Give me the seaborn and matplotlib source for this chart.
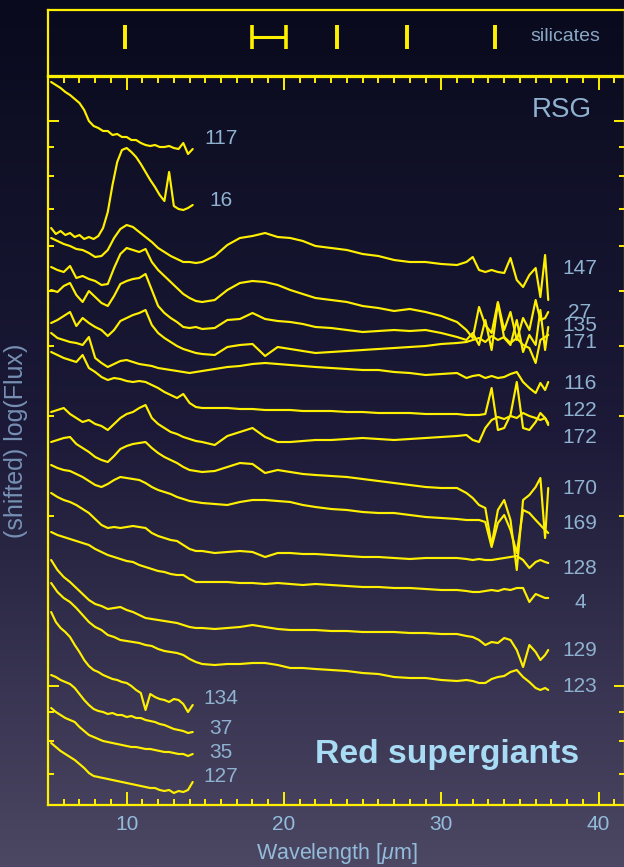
import numpy as np
import pandas as pd
import matplotlib
matplotlib.use("Agg")
import matplotlib.pyplot as plt
import seaborn as sns
from matplotlib.colors import LinearSegmentedColormap
from matplotlib.ticker import FixedLocator, MultipleLocator, NullFormatter

# ---------------------------------------------------------------- data
# wavelength grids [micron]
wl_short = [5.2, 5.5, 5.8, 6.1, 6.4, 6.7, 7.0, 7.3, 7.6, 7.9, 8.2, 8.5, 8.8, 9.1,
            9.4, 9.7, 10.0, 10.3, 10.6, 10.9, 11.2, 11.5, 11.8, 12.1, 12.4, 12.7,
            13.0, 13.3, 13.6, 13.9, 14.2]
wl_long = [5.2, 5.6, 6.0, 6.4, 6.8, 7.2, 7.6, 8.0, 8.4, 8.8, 9.2, 9.6, 10.0, 10.4,
           10.8, 11.2, 11.6, 12.0, 12.4, 12.8, 13.2, 13.6, 14.0, 14.4, 14.8,
           15.6, 16.4, 17.2, 18.0, 18.8, 19.6, 20.4, 21.2, 22.0, 23.0, 24.0, 25.0,
           26.0, 27.0, 28.0, 29.0, 30.0, 31.0,
           31.6, 32.0, 32.4, 32.8, 33.2, 33.6, 34.0, 34.4, 34.8, 35.2, 35.6, 36.0,
           36.3, 36.6, 36.8]

# shifted log(flux) of the short-wavelength spectra
flux_117 = [7.23, 7.20, 7.17, 7.13, 7.10, 7.06, 7.02, 6.95, 6.84, 6.79, 6.77, 6.74,
            6.74, 6.70, 6.71, 6.68, 6.68, 6.65, 6.65, 6.62, 6.60, 6.59, 6.60, 6.58,
            6.58, 6.59, 6.57, 6.56, 6.62, 6.51, 6.56]
flux_16 = [5.77, 5.71, 5.74, 5.70, 5.72, 5.68, 5.70, 5.66, 5.68, 5.66, 5.69, 5.77,
           5.93, 6.20, 6.43, 6.55, 6.57, 6.53, 6.48, 6.41, 6.33, 6.25, 6.18, 6.10,
           6.04, 6.33, 5.99, 5.96, 5.95, 5.97, 6.00]
flux_134 = [1.93, 1.83, 1.77, 1.73, 1.68, 1.60, 1.53, 1.45, 1.39, 1.35, 1.33, 1.30,
            1.28, 1.26, 1.25, 1.23, 1.22, 1.19, 1.15, 1.12, 0.95, 1.11, 1.08, 1.06,
            1.05, 1.03, 1.06, 1.05, 1.01, 0.93, 1.00]
flux_37 = [1.30, 1.28, 1.25, 1.23, 1.21, 1.17, 1.11, 1.05, 1.00, 0.96, 0.94, 0.93,
           0.91, 0.92, 0.90, 0.90, 0.88, 0.89, 0.87, 0.87, 0.85, 0.84, 0.83, 0.81,
           0.80, 0.78, 0.76, 0.75, 0.74, 0.72, 0.73]
flux_35 = [0.97, 0.93, 0.90, 0.87, 0.85, 0.83, 0.78, 0.74, 0.70, 0.68, 0.66, 0.64,
           0.63, 0.62, 0.61, 0.60, 0.59, 0.58, 0.58, 0.57, 0.56, 0.56, 0.55, 0.54,
           0.53, 0.53, 0.52, 0.51, 0.51, 0.49, 0.51]
flux_127 = [0.62, 0.58, 0.54, 0.51, 0.48, 0.45, 0.41, 0.37, 0.32, 0.29, 0.28, 0.27,
            0.26, 0.25, 0.24, 0.23, 0.22, 0.21, 0.20, 0.19, 0.18, 0.17, 0.17, 0.15,
            0.14, 0.15, 0.12, 0.14, 0.13, 0.15, 0.23]

# shifted log(flux) of the full-range spectra
flux_147 = [5.67, 5.64, 5.61, 5.59, 5.56, 5.55, 5.52, 5.48, 5.49, 5.55, 5.67, 5.76,
            5.80, 5.78, 5.73, 5.68, 5.63, 5.57, 5.53, 5.49, 5.46, 5.43, 5.43, 5.42,
            5.43,
            5.49, 5.60, 5.67, 5.69, 5.72, 5.68, 5.67, 5.64, 5.59, 5.57, 5.55, 5.51,
            5.49, 5.45, 5.43, 5.43, 5.41, 5.40,
            5.43, 5.48, 5.35, 5.33, 5.35, 5.33, 5.32, 5.47, 5.25, 5.18, 5.30, 5.37,
            5.08, 5.50, 5.05]
flux_27 = [5.38, 5.35, 5.33, 5.39, 5.27, 5.29, 5.26, 5.24, 5.20, 5.21, 5.37, 5.51,
           5.57, 5.55, 5.53, 5.56, 5.43, 5.35, 5.29, 5.23, 5.17, 5.11, 5.07, 5.04,
           5.03,
           5.05, 5.15, 5.22, 5.24, 5.23, 5.20, 5.15, 5.11, 5.07, 5.05, 5.03, 4.99,
           4.97, 4.94, 4.96, 4.93, 4.89, 4.83,
           4.75, 4.67, 4.98, 4.80, 4.72, 5.03, 4.75, 4.93, 4.65, 4.87, 4.75, 5.05,
           4.85, 4.87, 4.93]
flux_135 = [5.15, 5.13, 5.19, 5.22, 5.10, 5.03, 5.14, 5.08, 5.02, 4.99, 5.09, 5.21,
            5.24, 5.26, 5.27, 5.31, 5.15, 4.99, 4.92, 4.87, 4.83, 4.78, 4.77, 4.78,
            4.76,
            4.77, 4.85, 4.86, 4.92, 4.86, 4.84, 4.83, 4.81, 4.78, 4.77, 4.75, 4.73,
            4.74, 4.75, 4.74, 4.75, 4.72, 4.68,
            4.65, 4.72, 4.60, 4.85, 4.55, 5.02, 4.67, 4.60, 4.85, 4.53, 4.70, 4.60,
            4.95, 4.55, 4.78]
flux_171 = [4.82, 4.85, 4.89, 4.93, 4.79, 4.87, 4.82, 4.78, 4.75, 4.69, 4.75, 4.84,
            4.87, 4.90, 4.92, 4.95, 4.80, 4.72, 4.67, 4.63, 4.59, 4.56, 4.54, 4.52,
            4.51,
            4.50, 4.58, 4.60, 4.61, 4.49, 4.58, 4.56, 4.54, 4.52, 4.53, 4.54, 4.55,
            4.56, 4.57, 4.58, 4.59, 4.61, 4.62,
            4.63, 4.65, 4.67, 4.63, 4.69, 4.65, 4.68, 4.62, 4.67, 4.60, 4.57, 4.42,
            4.65, 4.68, 4.70]
flux_116 = [4.72, 4.67, 4.65, 4.63, 4.62, 4.60, 4.68, 4.47, 4.42, 4.38, 4.41, 4.44,
            4.45, 4.43, 4.41, 4.40, 4.39, 4.37, 4.36, 4.35, 4.34, 4.33, 4.32, 4.33,
            4.34,
            4.36, 4.38, 4.39, 4.41, 4.42, 4.41, 4.40, 4.39, 4.38, 4.37, 4.36, 4.35,
            4.35, 4.33, 4.32, 4.30, 4.31, 4.32,
            4.27, 4.29, 4.30, 4.27, 4.29, 4.27, 4.28, 4.31, 4.33, 4.23, 4.17, 4.12,
            4.22, 4.15, 4.23]
flux_122 = [4.53, 4.50, 4.47, 4.45, 4.43, 4.50, 4.37, 4.33, 4.28, 4.25, 4.27, 4.26,
            4.24, 4.23, 4.24, 4.23, 4.20, 4.17, 4.13, 4.10, 4.07, 4.11, 4.02, 3.98,
            3.97,
            3.97, 3.97, 3.96, 3.96, 3.95, 3.95, 3.95, 3.94, 3.94, 3.94, 3.93, 3.93,
            3.92, 3.92, 3.92, 3.91, 3.91, 3.91,
            3.90, 3.90, 3.90, 3.91, 4.17, 3.75, 3.77, 3.90, 4.23, 3.77, 3.75, 3.83,
            3.92, 3.87, 3.82]
flux_172 = [3.93, 3.95, 3.97, 3.91, 3.87, 3.83, 3.85, 3.81, 3.79, 3.75, 3.81, 3.87,
            3.91, 3.93, 3.97, 4.00, 3.87, 3.81, 3.77, 3.73, 3.71, 3.68, 3.66, 3.64,
            3.63,
            3.60, 3.69, 3.73, 3.77, 3.68, 3.63, 3.63, 3.64, 3.65, 3.65, 3.66, 3.67,
            3.66, 3.65, 3.66, 3.67, 3.68, 3.69,
            3.70, 3.65, 3.63, 3.77, 3.85, 3.88, 3.86, 3.89, 3.87, 3.92, 3.89, 3.87,
            3.85, 3.87, 3.80]
flux_170 = [3.63, 3.65, 3.67, 3.68, 3.61, 3.57, 3.53, 3.48, 3.45, 3.43, 3.49, 3.56,
            3.59, 3.61, 3.62, 3.63, 3.57, 3.52, 3.48, 3.45, 3.42, 3.38, 3.35, 3.34,
            3.33,
            3.34, 3.38, 3.42, 3.41, 3.32, 3.35, 3.33, 3.31, 3.30, 3.29, 3.28, 3.26,
            3.24, 3.22, 3.20, 3.18, 3.17, 3.17,
            3.12, 3.07, 3.00, 2.97, 2.60, 2.95, 3.05, 2.85, 2.35, 3.05, 3.10, 3.18,
            3.27, 2.67, 3.17]
flux_169 = [3.40, 3.37, 3.35, 3.34, 3.31, 3.28, 3.24, 3.20, 3.18, 3.21, 3.25, 3.28,
            3.27, 3.26, 3.25, 3.22, 3.18, 3.15, 3.13, 3.11, 3.08, 3.06, 3.04, 3.03,
            3.02,
            3.01, 3.00, 3.03, 3.05, 3.05, 3.04, 3.03, 3.00, 2.98, 2.96, 2.95, 2.93,
            2.92, 2.92, 2.90, 2.88, 2.87, 2.86,
            2.85, 2.85, 2.85, 2.83, 2.58, 2.82, 2.90, 2.75, 2.52, 2.95, 2.92, 2.85,
            2.80, 2.75, 2.72]
flux_128 = [3.12, 3.08, 3.05, 3.03, 3.00, 2.96, 2.92, 2.86, 2.80, 2.77, 2.78, 2.77,
            2.78, 2.79, 2.78, 2.77, 2.72, 2.69, 2.67, 2.65, 2.64, 2.60, 2.56, 2.54,
            2.54,
            2.52, 2.53, 2.54, 2.53, 2.48, 2.52, 2.52, 2.51, 2.51, 2.50, 2.49, 2.48,
            2.48, 2.47, 2.46, 2.47, 2.47, 2.47,
            2.46, 2.45, 2.46, 2.45, 2.45, 2.46, 2.47, 2.48, 2.49, 2.45, 2.37, 2.43,
            2.45, 2.43, 2.42]
flux_4 = [2.73, 2.70, 2.68, 2.66, 2.64, 2.62, 2.60, 2.56, 2.53, 2.50, 2.48, 2.46,
          2.44, 2.43, 2.40, 2.38, 2.36, 2.34, 2.33, 2.31, 2.30, 2.30, 2.26, 2.23,
          2.23,
          2.23, 2.23, 2.22, 2.22, 2.21, 2.22, 2.21, 2.20, 2.21, 2.20, 2.19, 2.18,
          2.18, 2.17, 2.17, 2.16, 2.15, 2.15,
          2.14, 2.13, 2.13, 2.14, 2.15, 2.14, 2.16, 2.15, 2.17, 2.17, 2.03, 2.11,
          2.09, 2.07, 2.07]
flux_129 = [2.45, 2.35, 2.28, 2.23, 2.17, 2.11, 2.05, 2.01, 1.99, 1.96, 1.97, 1.98,
            1.95, 1.93, 1.90, 1.87, 1.86, 1.85, 1.84, 1.83, 1.82, 1.80, 1.78, 1.77,
            1.77,
            1.76, 1.77, 1.78, 1.80, 1.78, 1.76, 1.75, 1.75, 1.75, 1.74, 1.74, 1.73,
            1.73, 1.73, 1.72, 1.72, 1.71, 1.71,
            1.69, 1.68, 1.65, 1.60, 1.63, 1.62, 1.67, 1.65, 1.55, 1.38, 1.60, 1.53,
            1.45, 1.50, 1.55]
flux_123 = [2.22, 2.13, 2.07, 2.03, 1.97, 1.90, 1.83, 1.78, 1.75, 1.70, 1.68, 1.65,
            1.64, 1.63, 1.62, 1.60, 1.59, 1.56, 1.54, 1.53, 1.52, 1.50, 1.46, 1.43,
            1.41,
            1.40, 1.41, 1.41, 1.42, 1.42, 1.40, 1.37, 1.37, 1.36, 1.35, 1.34, 1.32,
            1.31, 1.28, 1.27, 1.27, 1.25, 1.24,
            1.25, 1.24, 1.22, 1.22, 1.26, 1.28, 1.29, 1.33, 1.35, 1.28, 1.23, 1.17,
            1.15, 1.17, 1.15]

short_stars = ["117", "16", "134", "37", "35", "127"]
long_stars = ["147", "27", "135", "171", "116", "122", "172", "170", "169",
              "128", "4", "129", "123"]

# silicate feature positions [micron]; the 18-20 micron one is a band
silicate_bands = [(9.9, 9.9), (18.0, 20.1), (23.4, 23.4), (27.8, 27.8), (33.4, 33.4)]

# ---------------------------------------------------------------- table
short_flux = [flux_117, flux_16, flux_134, flux_37, flux_35, flux_127]
long_flux = [flux_147, flux_27, flux_135, flux_171, flux_116, flux_122, flux_172,
             flux_170, flux_169, flux_128, flux_4, flux_129, flux_123]
frames = []
for name, f in zip(short_stars, short_flux):
    frames.append(pd.DataFrame({"wavelength": wl_short, "flux": f, "star": name}))
for name, f in zip(long_stars, long_flux):
    frames.append(pd.DataFrame({"wavelength": wl_long, "flux": f, "star": name}))
spectra = pd.concat(frames, ignore_index=True)

# ---------------------------------------------------------------- style
sns.set_style("ticks")
plt.rcParams["font.family"] = ["Liberation Sans", "DejaVu Sans"]
plt.rcParams["mathtext.fontset"] = "custom"
plt.rcParams["mathtext.rm"] = "Liberation Sans"
plt.rcParams["mathtext.it"] = "Liberation Sans:italic"

YELLOW = "#fff000"
LABEL = "#8fb2d0"
TICKLAB = "#93bcdb"

W, H = 624, 867
fig = plt.figure(figsize=(W / 100, H / 100), dpi=100)

# backdrop: dark navy fading into grey-violet
bg = fig.add_axes([0, 0, 1, 1], zorder=-5)
cmap = LinearSegmentedColormap.from_list("backdrop", ["#090a1d", "#1c1a38", "#4c4763"])
bg.imshow(np.linspace(0, 1, 512)[:, None], aspect="auto", cmap=cmap,
          extent=[0, 1, 0, 1], origin="upper")
bg.set_axis_off()

left, right = 48 / W, 625 / W
ax = fig.add_axes([left, 62 / H, right - left, 728 / H])
ax_top = fig.add_axes([left, 791 / H, right - left, 66 / H])
for a in (ax, ax_top):
    a.set_facecolor("none")
    for s in a.spines.values():
        s.set_color(YELLOW)
        s.set_linewidth(1.6)
    a.set_xlim(5, 41.68)

# ---------------------------------------------------------------- spectra
sns.lineplot(data=spectra, x="wavelength", y="flux", units="star", estimator=None,
             sort=False, color=YELLOW, linewidth=1.55, ax=ax, legend=False)
ax.set_ylim(0, 7.28)

# star identifiers next to each spectrum
label_left = {"117": 6.67, "16": 6.05, "134": 1.07, "37": 0.77, "35": 0.53, "127": 0.28}
label_right = {"147": 5.37, "27": 4.93, "135": 4.80, "171": 4.63, "116": 4.22,
               "122": 3.95, "172": 3.68, "170": 3.17, "169": 2.82, "128": 2.37,
               "4": 2.02, "129": 1.54, "123": 1.19}
for name, yv in label_left.items():
    ax.text(16.0, yv, name, color=LABEL, fontsize=15, ha="center", va="center")
for name, yv in label_right.items():
    ax.text(38.82, yv, name, color=LABEL, fontsize=15, ha="center", va="center")

ax.text(37.68, 6.95, "RSG", color=LABEL, fontsize=20, ha="center", va="center")
ax.text(30.37, 0.42, "Red supergiants", color="#a8dcf5", fontsize=24.3,
        fontweight="bold", ha="center", va="baseline")

# axes decoration
ax.xaxis.set_major_locator(FixedLocator([10, 20, 30, 40]))
ax.xaxis.set_minor_locator(MultipleLocator(1))
decade, y_one = 5.65, 1.19
ax.yaxis.set_major_locator(FixedLocator([y_one + decade * np.log10(v) for v in (1, 10)]))
ax.yaxis.set_minor_locator(FixedLocator(
    [y_one + decade * np.log10(v) for v in (0.7, 0.8, 0.9, 2, 3, 4, 5, 6, 7, 8, 9)]))
ax.yaxis.set_major_formatter(NullFormatter())
ax.tick_params(axis="x", which="both", direction="in", top=True, bottom=True,
               color=YELLOW, width=1.4, labelcolor=TICKLAB, labelsize=15, pad=7)
ax.tick_params(axis="x", which="major", length=9.5)
ax.tick_params(axis="x", which="minor", length=4.3)
ax.tick_params(axis="y", which="both", direction="in", left=True, right=True,
               color=YELLOW, width=1.4)
ax.tick_params(axis="y", which="major", length=8)
ax.tick_params(axis="y", which="minor", length=4)
ax.set_xlabel("Wavelength [$\\mathit{\\mu}$m]", color=TICKLAB, fontsize=15.5, labelpad=5)
ax.set_ylabel("(shifted) log(Flux)", color="#7690b4", fontsize=18, labelpad=11)

# ---------------------------------------------------------------- silicate panel
ax_top.set_ylim(0, 1)
ax_top.set_xticks([])
ax_top.set_yticks([])
for lo, hi in silicate_bands:
    ax_top.vlines([lo, hi], 0.41, 0.77, color=YELLOW, linewidth=2.6)
    if hi > lo:
        ax_top.hlines(0.59, lo, hi, color=YELLOW, linewidth=2.2)
ax_top.text(37.87, 0.60, "silicates", color="#8aa8c6", fontsize=14,
            ha="center", va="center")

fig.savefig("out.png", dpi=100)
